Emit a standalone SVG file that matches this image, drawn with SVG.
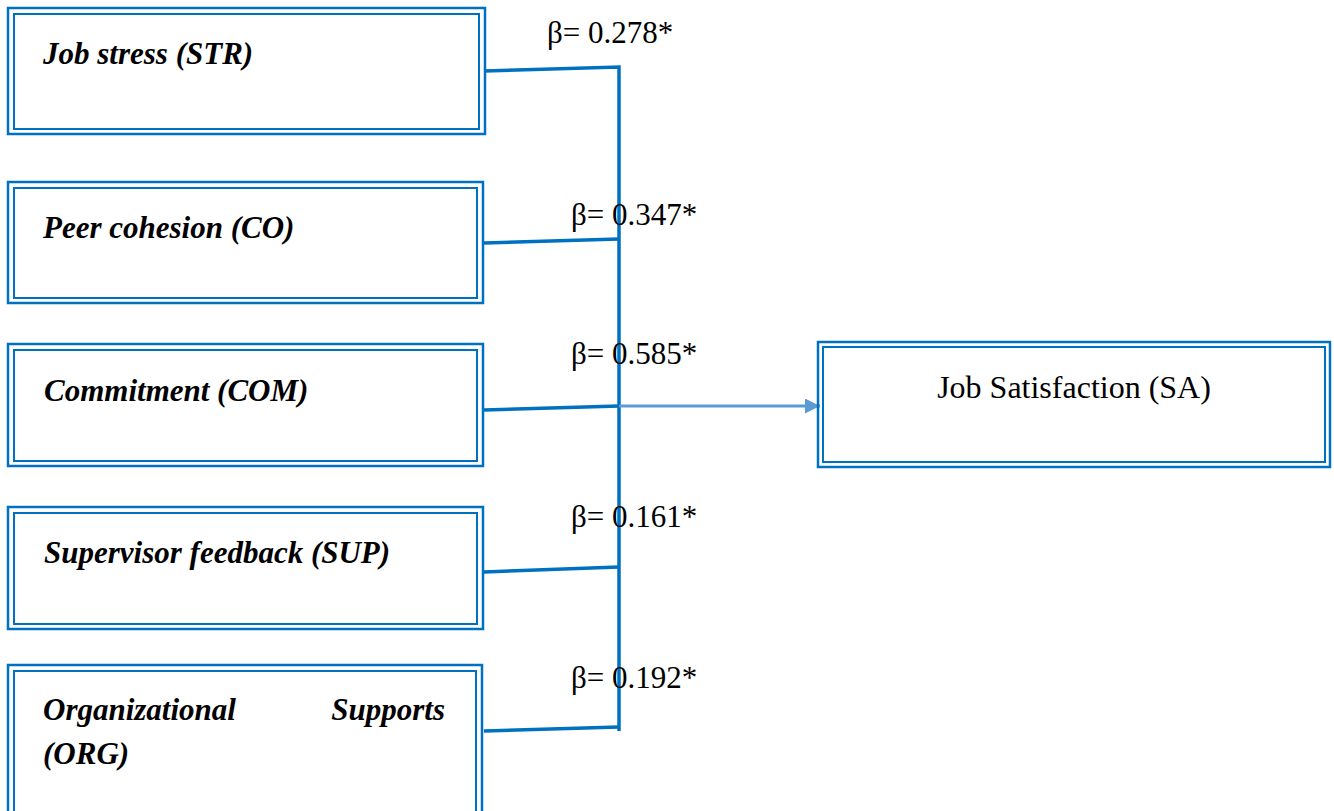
<svg xmlns="http://www.w3.org/2000/svg" width="1334" height="811" viewBox="0 0 1334 811">
<defs>
<style>
.o{fill:none;stroke:#0070C0;stroke-width:2.5}
.i{fill:none;stroke:#0070C0;stroke-width:2}
.lab{font-family:'Liberation Serif','Times New Roman',serif;font-size:31px;font-weight:bold;font-style:italic;fill:#000}
.b{font-family:'Liberation Serif','Times New Roman',serif;font-size:31px;fill:#000}
.c{fill:none;stroke:#0070C0;stroke-width:3.5}
</style>
<marker id="ah" viewBox="0 0 10 10" refX="10" refY="5" markerWidth="19" markerHeight="15" orient="auto" markerUnits="userSpaceOnUse">
<path d="M0,0 L10,5 L0,10 z" fill="#5B9BD5"/>
</marker>
</defs>
<rect width="1334" height="811" fill="#fff"/>
<g id="connectors">
<polyline class="c" points="484,71 619,67 619,731"/>
<line class="c" x1="484" y1="243" x2="619" y2="239"/>
<line class="c" x1="484" y1="410" x2="619" y2="406"/>
<line class="c" x1="484" y1="572" x2="619" y2="567"/>
<line class="c" x1="484" y1="731" x2="619" y2="727"/>
<line x1="619" y1="406" x2="820" y2="406" stroke="#5B9BD5" stroke-width="3" marker-end="url(#ah)"/>
<text class="b" x="547" y="43">β= 0.278*</text>
<text class="b" x="571" y="225">β= 0.347*</text>
<text class="b" x="571" y="364">β= 0.585*</text>
<text class="b" x="571" y="527">β= 0.161*</text>
<text class="b" x="571" y="688">β= 0.192*</text>
</g>
<g id="n-str">
<rect class="o" x="8" y="8" width="477" height="126"/>
<rect class="i" x="14" y="14" width="465" height="115"/>
<text class="lab" x="43" y="64">Job stress (STR)</text>
</g>
<g id="n-co">
<rect class="o" x="8" y="182" width="475" height="121"/>
<rect class="i" x="14" y="188" width="463" height="110"/>
<text class="lab" x="43" y="238">Peer cohesion (CO)</text>
</g>
<g id="n-com">
<rect class="o" x="8" y="344" width="475" height="122"/>
<rect class="i" x="14" y="350" width="463" height="111"/>
<text class="lab" x="44" y="401">Commitment (COM)</text>
</g>
<g id="n-sup">
<rect class="o" x="8" y="507" width="475" height="122"/>
<rect class="i" x="14" y="513" width="463" height="111"/>
<text class="lab" x="44" y="563">Supervisor feedback (SUP)</text>
</g>
<g id="n-org">
<rect class="o" x="8" y="665" width="474" height="160"/>
<rect class="i" x="14" y="671" width="462" height="150"/>
<text class="lab" x="43" y="720">Organizational</text>
<text class="lab" x="445" y="720" text-anchor="end">Supports</text>
<text class="lab" x="43" y="764">(ORG)</text>
</g>
<g id="n-sa">
<rect class="o" x="818" y="342" width="512" height="125"/>
<rect class="i" x="823" y="347" width="502" height="115"/>
<text class="b" x="1074" y="398" text-anchor="middle" style="font-size:32px">Job Satisfaction (SA)</text>
</g>
</svg>
